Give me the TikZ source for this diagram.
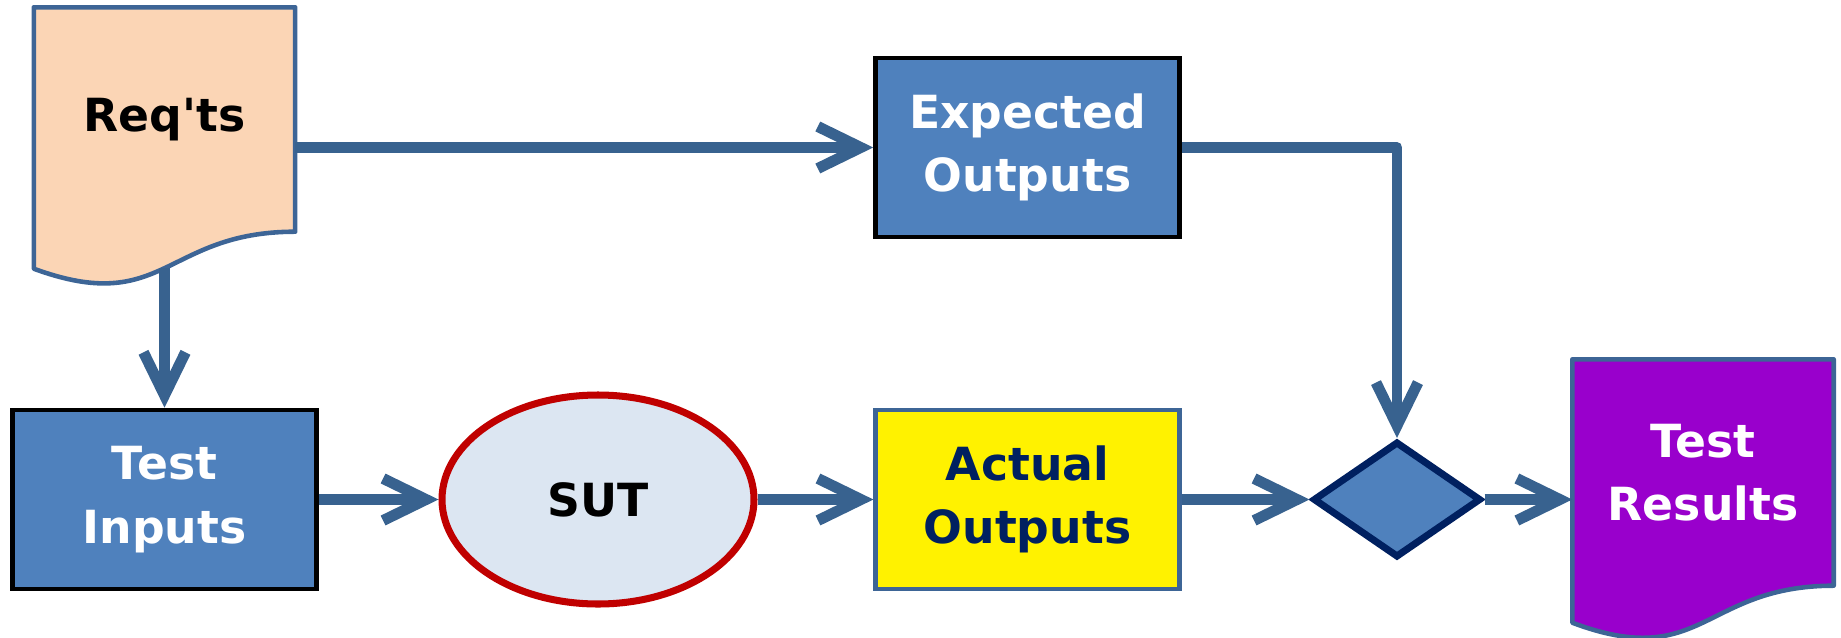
\documentclass[tikz,border=0pt]{standalone}
\usepackage{fontspec}
\setmainfont{DejaVu Sans}
\usetikzlibrary{arrows.meta,shapes.geometric,calc,backgrounds}
\definecolor{flowline}{HTML}{38628F}
\definecolor{boxblue}{HTML}{4F81BD}
\definecolor{docpeach}{HTML}{FBD5B5}
\definecolor{sutfill}{HTML}{DCE6F2}
\definecolor{sutred}{HTML}{C00000}
\definecolor{darknavy}{HTML}{002060}
\definecolor{docborder}{HTML}{3D6596}
\definecolor{resultpurple}{HTML}{9900CC}

\begin{document}
\begin{tikzpicture}[
  label text/.style={font=\bfseries\fontsize{13}{18}\selectfont,align=center},
  blue box/.style={label text,draw=black,line width=1.3pt,fill=boxblue,text=white,minimum width=3.04cm,minimum height=1.79cm},
  doc area/.style={label text,minimum width=2.6cm,inner sep=0pt},
  doc shape/.style={draw=docborder,line width=1.3pt,line join=round},
  flow/.style={draw=flowline,line width=3.1pt,line join=round,-{Straight Barb[length=4.3mm,width=4.2mm]}}
]
\useasboundingbox (0,0) rectangle (18.41,6.37);

% Boxes
\node[blue box] (expected) at (10.275,4.895) {Expected\\Outputs};
\node[blue box] (inputs) at (1.645,1.375) {Test\\Inputs};
\node[ellipse,draw=sutred,line width=2pt,fill=sutfill,minimum width=3.12cm,minimum height=2.09cm,label text] (sut) at (5.98,1.375) {SUT};
\node[blue box,draw=docborder,line width=1.2pt,fill=yellow,text=darknavy] (actual) at (10.275,1.375) {Actual\\Outputs};
\node[diamond,draw=darknavy,line width=2pt,fill=boxblue,minimum width=1.68cm,minimum height=1.16cm,inner sep=0pt] (judge) at (13.97,1.375) {};

% Documents
\node[doc area,minimum height=2.23cm] (reqts) at (1.645,5.175) {Req\textquotesingle ts};
\node[doc area,minimum height=2.25cm,text=white] (results) at (17.03,1.645) {Test\\Results};
\begin{scope}[on background layer]
\draw[doc shape,fill=docpeach] (reqts.north west) -- (reqts.north east) -- (reqts.south east)
  .. controls (reqts.south) and ($(reqts.south)+(0,-0.85)$) .. ($(reqts.south west)+(0,-0.37)$)
  coordinate[pos=0.5] (reqtsfoot) -- cycle;
\draw[doc shape,fill=resultpurple] (results.north west) -- (results.north east) -- (results.south east)
  .. controls (results.south) and ($(results.south)+(0,-0.86)$) .. ($(results.south west)+(0,-0.37)$) -- cycle;
\end{scope}

% Connectors
\draw[flow] (expected.west -| reqts.east) -- (expected.west);
\draw[flow] (reqtsfoot) -- (inputs.north);
\draw[flow] (inputs.east) -- (sut.west);
\draw[flow] (sut.east) -- (actual.west);
\draw[flow] (actual.east) -- (judge.west);
\draw[flow] (expected.east) -| (judge.north);
\draw[flow] (judge.east) -- (judge.east -| results.west);

\end{tikzpicture}
\end{document}
